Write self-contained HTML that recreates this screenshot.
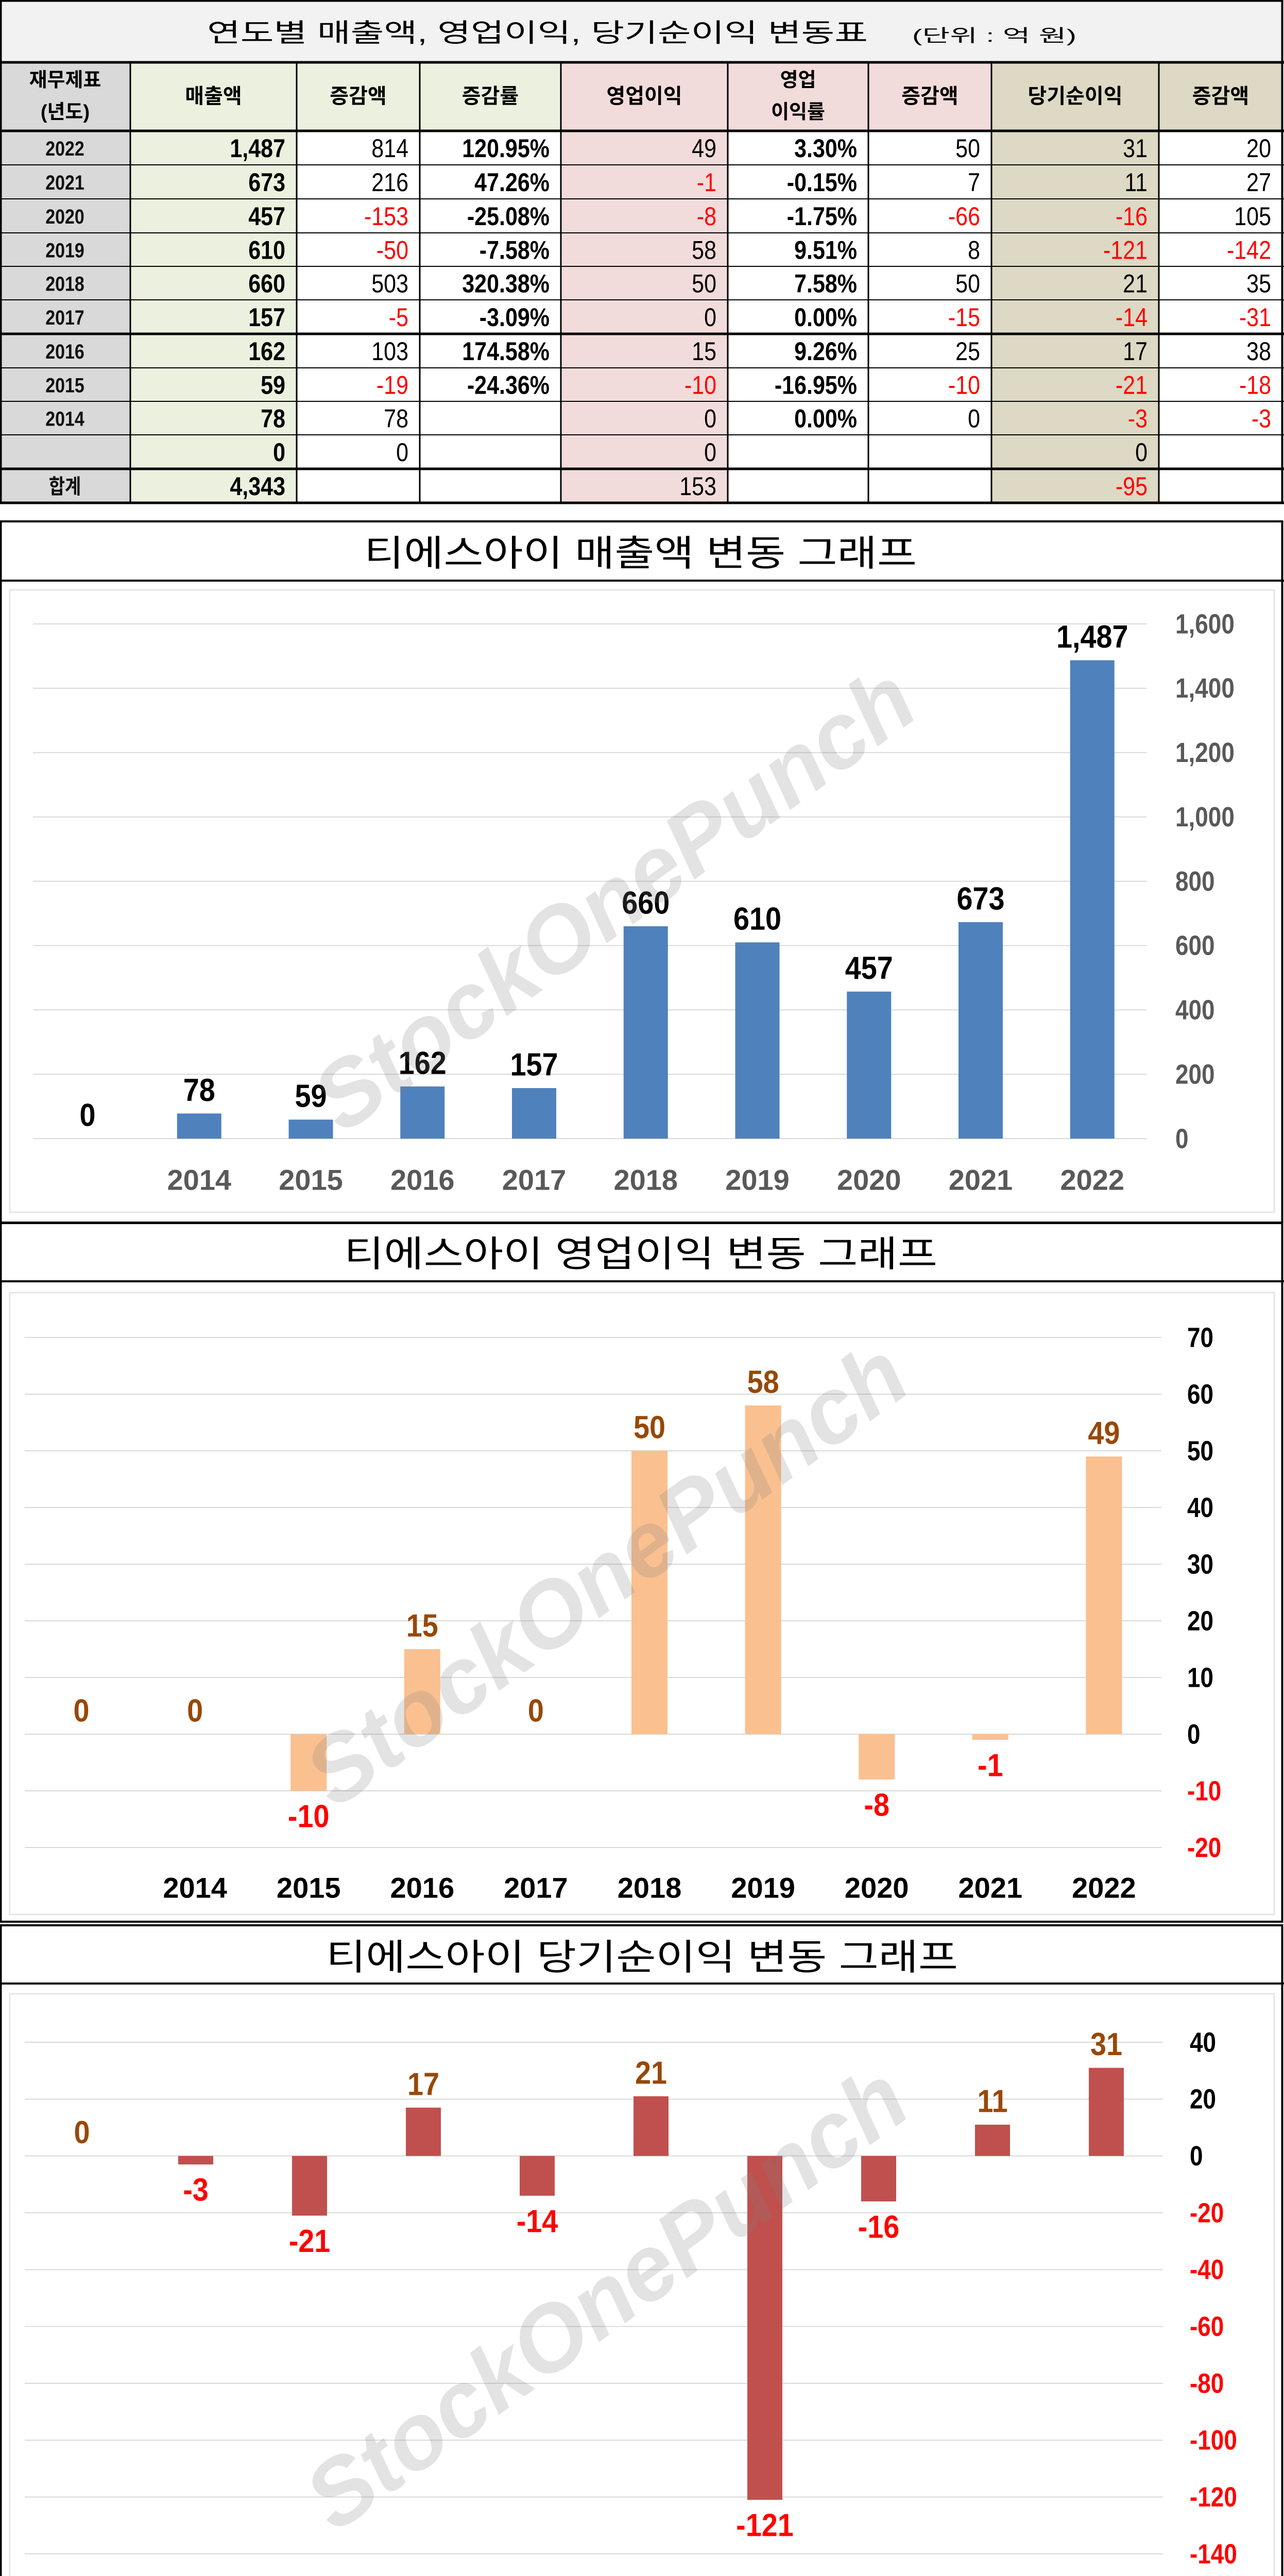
<!DOCTYPE html>
<html><head><meta charset="utf-8"><style>
html,body{margin:0;padding:0;background:#fff;width:2493px;height:5105px;overflow:hidden;position:relative;}
svg{display:block;position:absolute;left:0;top:0;}
</style></head><body>
<svg id="root" xmlns="http://www.w3.org/2000/svg" width="2493" height="5105" viewBox="0 0 2493 5105" overflow="hidden"></svg>
<script>
// ===== Table data =====
const tblYears = ["2022","2021","2020","2019","2018","2017","2016","2015","2014","","합계"];
const tblSales = ["1,487","673","457","610","660","157","162","59","78","0","4,343"];
const tblSalesChg = ["814","216","-153","-50","503","-5","103","-19","78","0",""];
const tblSalesRate = ["120.95%","47.26%","-25.08%","-7.58%","320.38%","-3.09%","174.58%","-24.36%","","",""];
const tblOp = ["49","-1","-8","58","50","0","15","-10","0","0","153"];
const tblOpRate = ["3.30%","-0.15%","-1.75%","9.51%","7.58%","0.00%","9.26%","-16.95%","0.00%","",""];
const tblOpChg = ["50","7","-66","8","50","-15","25","-10","0","",""];
const tblNet = ["31","11","-16","-121","21","-14","17","-21","-3","0","-95"];
const tblNetChg = ["20","27","105","-142","35","-31","38","-18","-3","",""];

// ===== Chart data =====
const categories = ["","2014","2015","2016","2017","2018","2019","2020","2021","2022"];
const salesValues = [0,78,59,162,157,660,610,457,673,1487];
const salesTicks = [0,200,400,600,800,1000,1200,1400,1600];
const opValues = [0,0,-10,15,0,50,58,-8,-1,49];
const opTicks = [-20,-10,0,10,20,30,40,50,60,70];
const netValues = [0,-3,-21,17,-14,21,-121,-16,11,31];
const netTicks = [-140,-120,-100,-80,-60,-40,-20,0,20,40];

const NS = "http://www.w3.org/2000/svg";
const root = document.getElementById('root');
function el(tag, attrs, parent){
  const e = document.createElementNS(NS, tag);
  for (const k in attrs) e.setAttribute(k, attrs[k]);
  (parent||root).appendChild(e);
  return e;
}
function txt(parent, x, y, s, size, opts){
  opts = opts||{};
  const sx = opts.sx||1, sy = opts.sy||1;
  const t = el('text', {
    transform: `translate(${x},${y}) scale(${sx},${sy})`,
    'font-family': opts.family || '"Liberation Sans", "Noto Sans CJK KR", sans-serif',
    'font-size': size, 'font-weight': opts.weight||'normal',
    fill: opts.fill||'#000', 'text-anchor': opts.anchor||'middle',
    'dominant-baseline': 'central'
  }, parent);
  if (opts.len){ t.setAttribute('textLength', opts.len); t.setAttribute('lengthAdjust','spacingAndGlyphs'); }
  if (opts.style) t.setAttribute('font-style', opts.style);
  t.textContent = s;
  return t;
}

// ===== TABLE =====
const tbl = el('g', {});


el('rect', {x:0,y:0,width:2493,height:121,fill:'#f2f2f2'}, tbl);
const tTitle = txt(tbl, 402, 64, "연도별  매출액, 영업이익, 당기순이익 변동표", 50, {anchor:'start', len:1283});


const tUnit = txt(tbl, 1771, 70, "(단위 : 억 원)", 34, {anchor:'start', len:319});



const colX = [0,253,576,815,1089,1413,1686,1925,2250,2490];
const colFill = ['#d9d9d9','#ebf1de','#ffffff','#ffffff','#f2dcdb','#ffffff','#ffffff','#ddd9c4','#ffffff'];
const rowY = [121,254,320,386,452,517,582,648,714,779,844,910,976];
for (let c=0;c<9;c++){
  const hdrFill = c===0?'#d9d9d9':(c<=3?'#ebf1de':(c<=6?'#f2dcdb':'#ddd9c4'));
  el('rect',{x:colX[c],y:121,width:colX[c+1]-colX[c],height:133,fill:hdrFill},tbl);
  el('rect',{x:colX[c],y:254,width:colX[c+1]-colX[c],height:722,fill:colFill[c]},tbl);
}
const headers = [["재무제표","(년도)"],["매출액"],["증감액"],["증감률"],["영업이익"],["영업","이익률"],["증감액"],["당기순이익"],["증감액"]];
headers.forEach((h,c)=>{
  const cx = (colX[c]+colX[c+1])/2;
  if (h.length===1){
    const t = txt(tbl, cx, 187, h[0], 40, {weight:'bold'});
    
    
  } else {
    const a = txt(tbl, cx, 156, h[0], 38, {weight:'bold'});
    
    
    const b = txt(tbl, cx, 218, h[1], 38, {weight:'bold'});
    
    
  }
});
const cols = [tblSales,tblSalesChg,tblSalesRate,tblOp,tblOpRate,tblOpChg,tblNet,tblNetChg];
const boldCols = [true,false,true,false,true,false,false,false];
const redCols = [false,true,false,true,false,true,true,true];
for (let r=0;r<11;r++){
  const cy = (rowY[r+1]+rowY[r+2])/2 + 1;
  const y = txt(tbl, 126, cy, tblYears[r], 40, {weight:'bold', sx:0.85, fill:'#111'});
  
  
  cols.forEach((col,ci)=>{
    const v = col[r]; if (v==="") return;
    const neg = v.startsWith('-');
    const t = txt(tbl, colX[ci+2]-22, cy, v, 50, {anchor:'end', weight: boldCols[ci]?'bold':'normal', sx:0.86,
      fill: (neg && redCols[ci]) ? '#ff0000' : '#000'});
    
    
  });
}
for (let c=1;c<9;c++) el('line',{x1:colX[c],y1:121,x2:colX[c],y2:976,stroke:'#000','stroke-width':3},tbl);
rowY.forEach((y,i)=>{
  const thick = (i===0||i===1||i===7||i===11||i===12);
  el('line',{x1:0,y1:y,x2:2493,y2:y,stroke:'#000','stroke-width':thick?5:2},tbl);
});
el('rect',{x:1.5,y:1.5,width:2488,height:975,fill:'none',stroke:'#000','stroke-width':4},tbl);

// ===== CHARTS =====
function drawChart(cfg){
  const g = el('g', {});
  
  
  el('rect',{x:1.5,y:cfg.boxTop,width:2488,height:cfg.boxBottom-cfg.boxTop,fill:'#fff',stroke:'#000','stroke-width':4},g);
  el('line',{x1:0,y1:cfg.titleBottom,x2:2493,y2:cfg.titleBottom,stroke:'#000','stroke-width':4},g);
  el('rect',{x:19,y:cfg.innerTop,width:2455,height:cfg.innerBottom-cfg.innerTop,fill:'none',stroke:'#e6e6e6','stroke-width':3},g);
  const tt = txt(g, cfg.titleX, cfg.titleY, cfg.title, 70, {anchor:'start', len:cfg.titleLen});
  
  
  const ticks = cfg.ticks;
  const tMin = ticks[0], tMax = ticks[ticks.length-1];
  const yScale = v => cfg.yTop + (tMax - v) / (tMax - tMin) * (cfg.yBottom - cfg.yTop);
  const xScale = i => cfg.x0 + i * cfg.step;
  ticks.forEach(tv=>{
    const yy = yScale(tv);
    const gl = el('line',{x1:cfg.gridX1,y1:yy,x2:cfg.gridX2,y2:yy,stroke:'#d9d9d9','stroke-width':2},g);
    
    
    const lab = tv.toLocaleString('en-US');
    const tl = txt(g, cfg.tickX, yy, lab, 54, {anchor:'start', weight:'bold', sx:0.85,
      fill: tv<0 ? '#ff0000' : cfg.tickColor});
    
    
  });
  const zeroY = yScale(0);
  cfg.values.forEach((v,i)=>{
    const cx = xScale(i);
    if (v !== 0){
      const top = Math.min(yScale(v), zeroY), h = Math.abs(yScale(v)-zeroY);
      const b = el('rect',{x:cx-cfg.barW/2,y:top,width:cfg.barW,height:h,fill:cfg.barColor},g);
      
      
    }
    const ly = v >= 0 ? yScale(v) - 45 : yScale(v) + 50;
    const lf = v < 0 ? '#ff0000' : cfg.posLabelColor;
    const dl = txt(g, cx, ly, v.toLocaleString('en-US'), 62, {weight:'bold', sx:0.9, fill:lf});
    
    
    if (categories[i] !== ""){
      const xl = txt(g, cx, cfg.xLabelY, categories[i], 56, {weight:'bold', fill:cfg.xColor});
      
      
    }
  });
  const wm = el('text',{
    transform:`translate(${cfg.wmX},${cfg.wmY}) rotate(-36)`,
    'font-family':'"Liberation Sans", sans-serif','font-size':180,'font-weight':'bold','font-style':'italic',
    fill:'#808080','fill-opacity':0.22,'text-anchor':'middle','dominant-baseline':'central'},g);
  
  
  wm.textContent = 'StockOnePunch';
}

drawChart({name:'sales-chart', title:'티에스아이 매출액 변동 그래프', titleX:707, titleY:1074, titleLen:1073,
  boxTop:1012, boxBottom:2373, titleBottom:1127, innerTop:1145, innerBottom:2353,
  ticks:salesTicks, values:salesValues, yTop:1211, yBottom:2210, gridX1:64, gridX2:2226, tickX:2282,
  x0:170, step:216.75, barW:86, barColor:'#4f81bd', posLabelColor:'#000', tickColor:'#595959',
  xColor:'#595959', xLabelY:2290, wmX:1192, wmY:1745});

drawChart({name:'operating-profit-chart', title:'티에스아이 영업이익 변동 그래프', titleX:668, titleY:2434, titleLen:1152,
  boxTop:2374, boxBottom:3730, titleBottom:2487, innerTop:2509, innerBottom:3716,
  ticks:opTicks, values:opValues, yTop:2596, yBottom:3586, gridX1:48, gridX2:2255, tickX:2305,
  x0:158, step:220.6, barW:70, barColor:'#fac090', posLabelColor:'#984807', tickColor:'#000',
  xColor:'#000', xLabelY:3664, wmX:1177, wmY:3055});

drawChart({name:'net-income-chart', title:'티에스아이 당기순이익 변동 그래프', titleX:633, titleY:3799, titleLen:1227,
  boxTop:3737, boxBottom:5102, titleBottom:3850, innerTop:3870, innerBottom:5096,
  ticks:netTicks, values:netValues, yTop:3964, yBottom:4957, gridX1:48, gridX2:2258, tickX:2310,
  x0:159, step:221, barW:68, barColor:'#c0504d', posLabelColor:'#984807', tickColor:'#000',
  xColor:'#000', xLabelY:5036, wmX:1177, wmY:4460});
</script>
</body></html>
